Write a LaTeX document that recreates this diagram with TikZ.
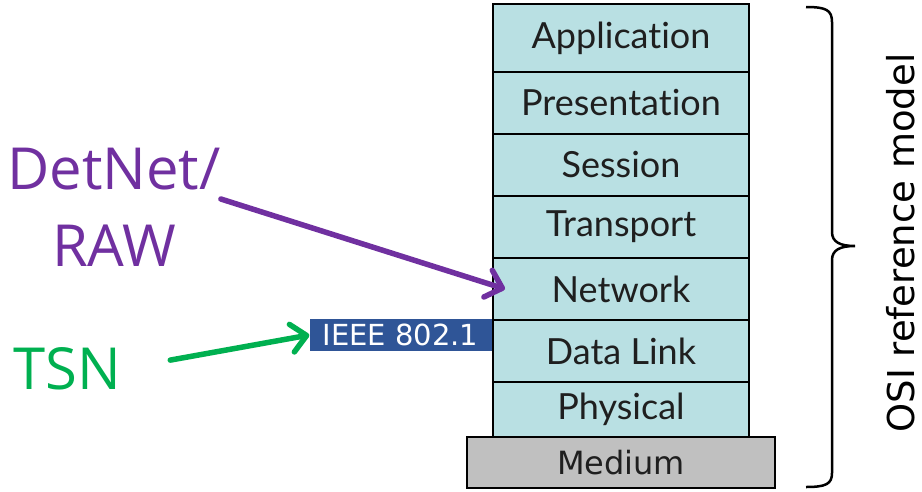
\documentclass[tikz,border=0pt]{standalone}
\usepackage{fontspec}
\setmainfont{DejaVu Sans}
\newfontfamily\layerfont[Ligatures=CommonOff]{Lato}
\newfontfamily\sidefont{Open Sans}
\usetikzlibrary{positioning,arrows.meta}

\definecolor{layercyan}{HTML}{B9E0E3}
\definecolor{mediumgray}{HTML}{C0C0C0}
\definecolor{detpurple}{HTML}{7030A0}
\definecolor{tsngreen}{HTML}{00B050}
\definecolor{ieeeblue}{HTML}{2F5597}

\begin{document}
\begin{tikzpicture}[x=1pt,y=-1pt,
  layer/.style={draw, line width=2.5pt, fill=layercyan, minimum width=256pt,
    minimum height=62pt, inner sep=0pt, outer sep=0pt,
    font=\layerfont\fontsize{36}{42}\selectfont, text=black!88},
  medium/.style={draw, line width=2.5pt, fill=mediumgray, minimum width=308pt,
    minimum height=51pt, inner sep=0pt, outer sep=0pt,
    font=\fontsize{32}{38}\selectfont, text=black!88},
  sidetext/.style={inner sep=0pt, align=center,
    font=\sidefont\fontsize{58}{77}\selectfont},
  ieeebox/.style={fill=ieeeblue, text=white, minimum width=182pt,
    minimum height=32pt, inner sep=0pt, font=\fontsize{29}{34}\selectfont},
  pointer/.style={line width=5.5pt, line cap=round,
    -{Straight Barb[length=15pt,width=28pt,round]}},
  bracket/.style={line width=2.5pt}]

\useasboundingbox (0,0) rectangle (922,491);

% OSI stack
\node[layer, minimum height=68pt] (app) at (621,38) {Application};
\node[layer, below=0pt of app] (pres) {Presentation};
\node[layer, below=0pt of pres] (sess) {Session};
\node[layer, below=0pt of sess] (trans) {Transport};
\node[layer, below=0pt of trans] (net) {Network};
\node[layer, below=0pt of net] (link) {Data Link};
\node[layer, minimum height=55pt, below=0pt of link] (phys) {Physical};
\node[medium, below=0pt of phys] (med) {Medium};

% IEEE tag on the left side of the stack
\node[ieeebox, anchor=east] (ieee) at ([xshift=-1.25pt,yshift=-15pt]link.north west) {IEEE 802.1};

% labels on the left
\node[sidetext, text=detpurple] (detnet) at (114,207) {DetNet/\\RAW};
\node[sidetext, text=tsngreen] (tsn) at (67,369) {TSN};

\draw[pointer, draw=detpurple] ([yshift=8pt]detnet.east) -- ([xshift=12pt]net.west);
\draw[pointer, draw=tsngreen, shorten <=50pt] (tsn.east) -- (ieee.west);

% brace and caption
\draw[bracket] (806,7) .. controls (826,7) and (832,10) .. (832,22) -- (832,232)
  .. controls (832,242) and (840,246) .. (855,246)
  .. controls (840,246) and (832,250) .. (832,260) -- (832,473)
  .. controls (832,484) and (826,487) .. (806,487);
\node[rotate=90, font=\fontsize{37}{44}\selectfont] (osi) at (901,243) {OSI reference model};

\end{tikzpicture}
\end{document}
